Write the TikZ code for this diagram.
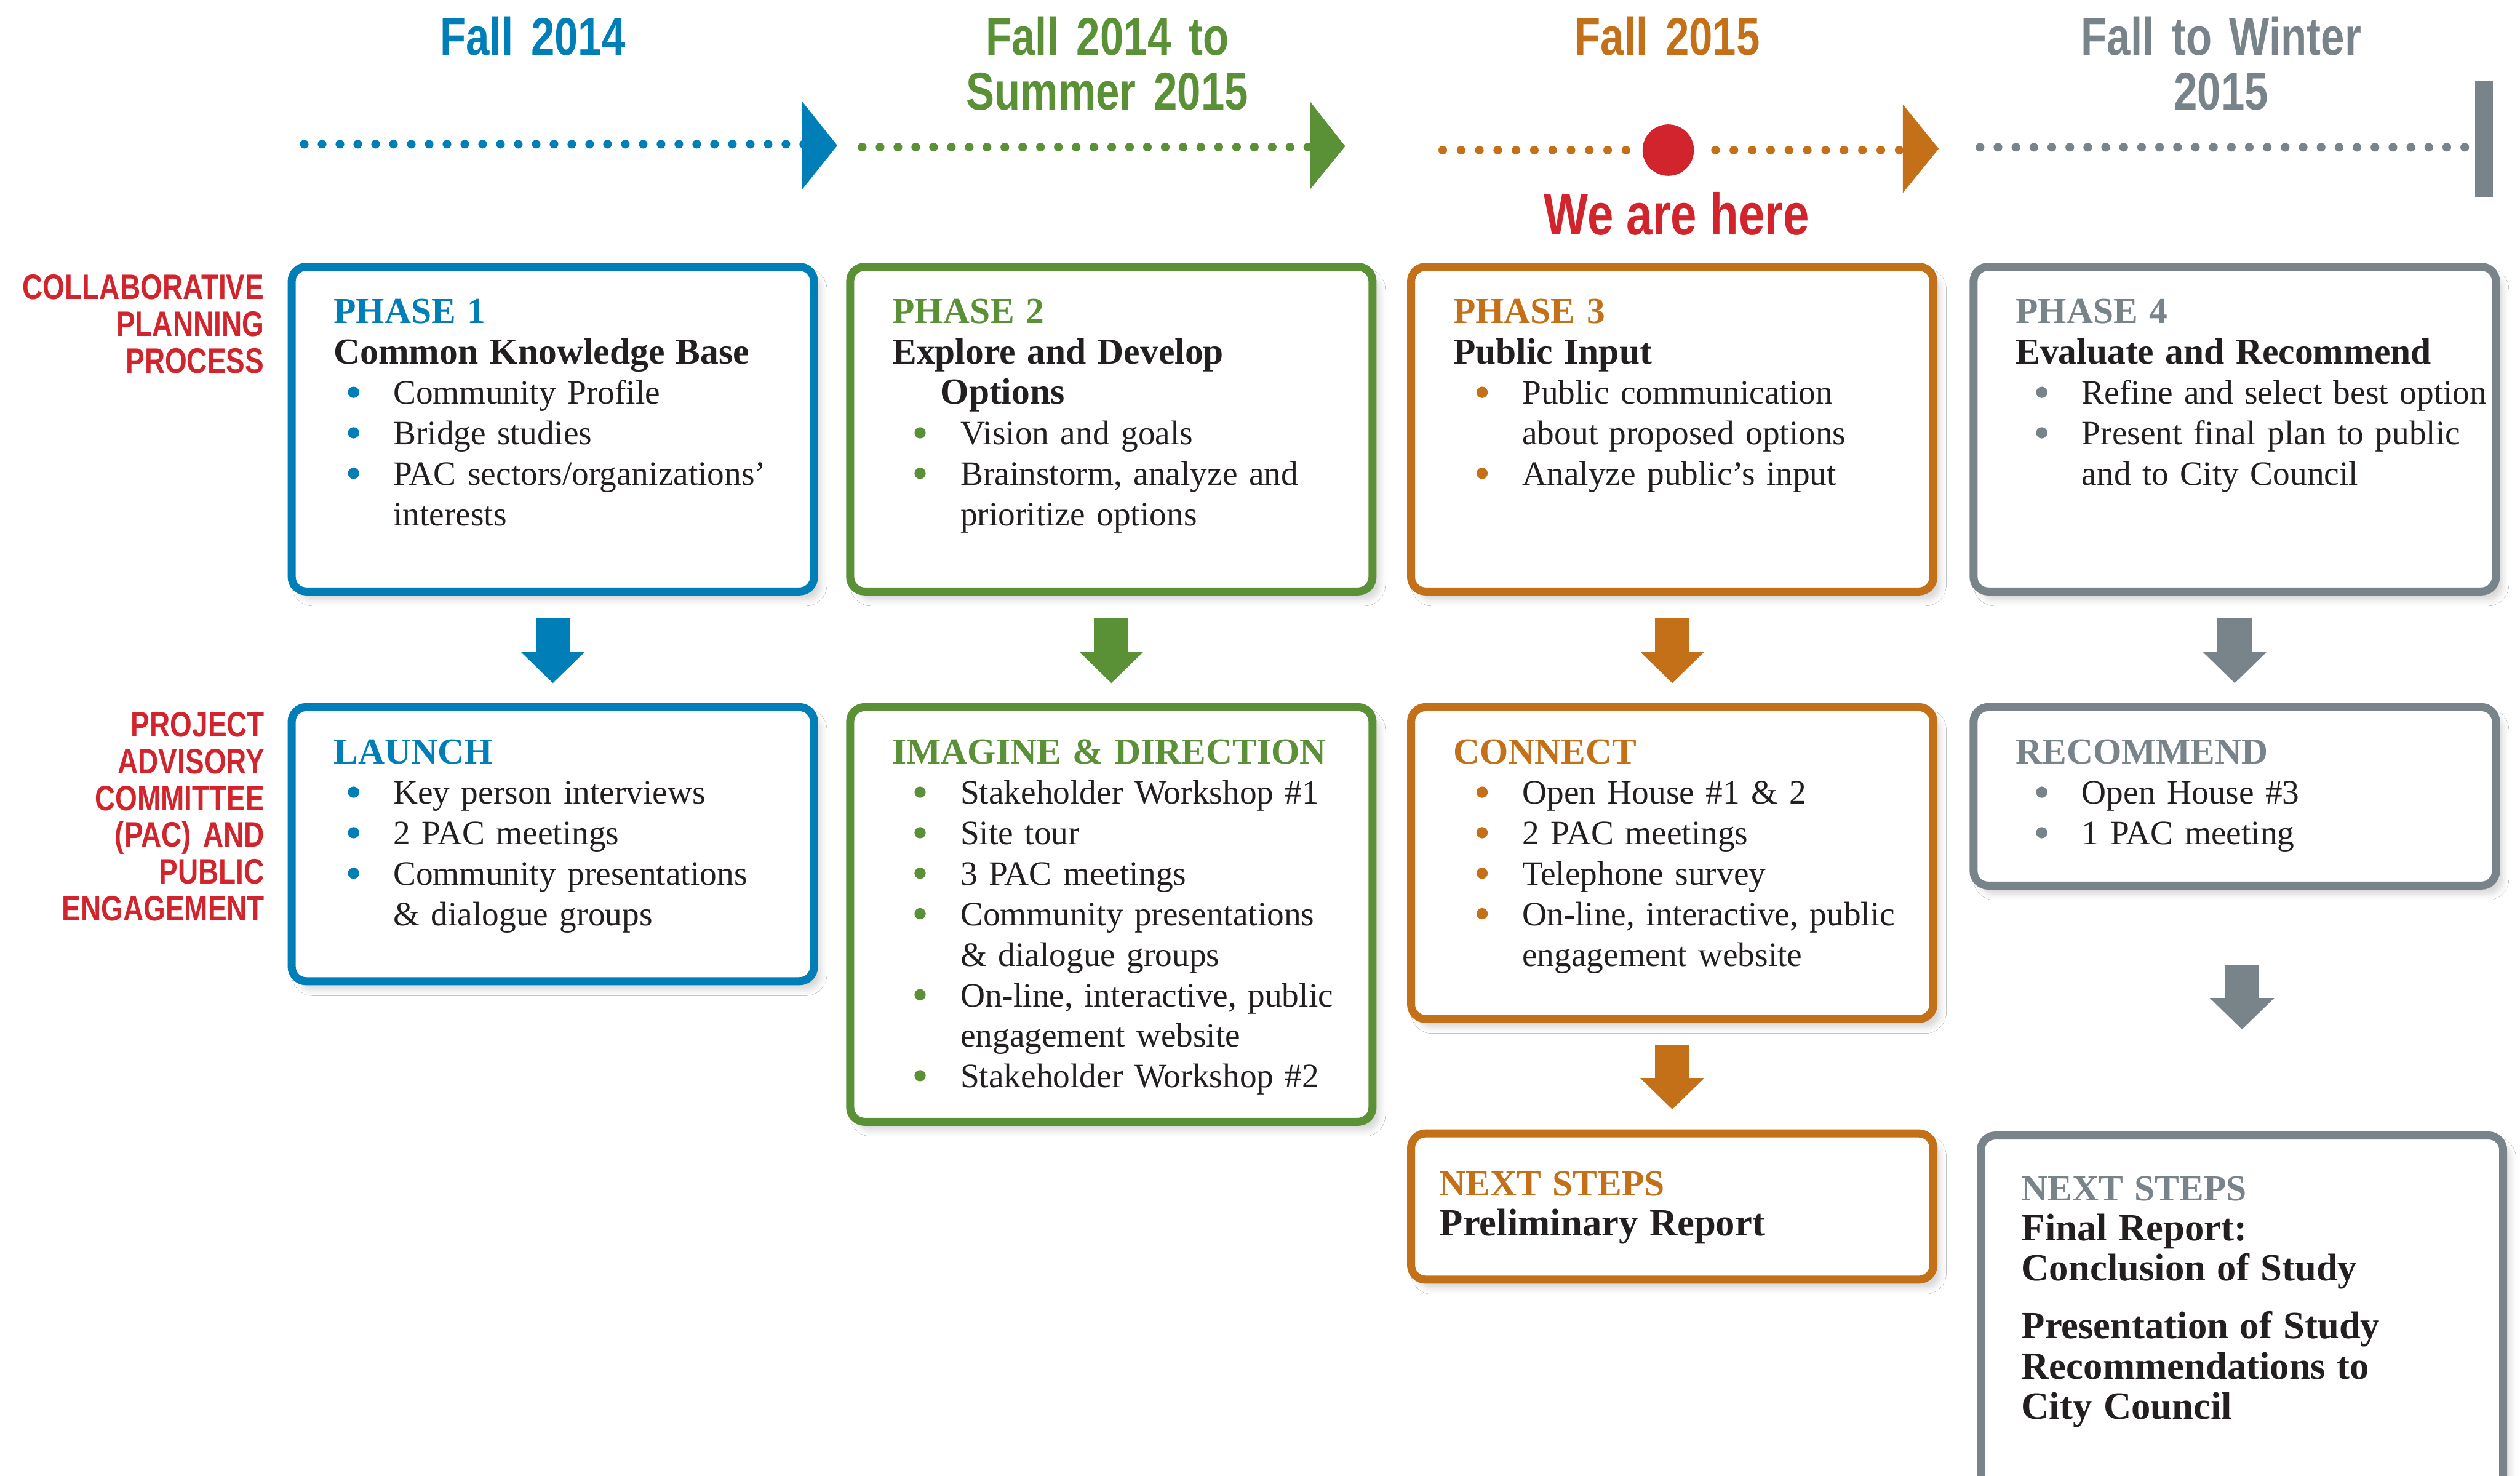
\documentclass[tikz,border=0pt]{standalone}
\usepackage{fontspec}
\usepackage{tikz}
\usetikzlibrary{arrows.meta, shadows.blur}
\usepackage{xcolor}

\setmainfont{Liberation Serif}
\newfontfamily\estreita[FakeStretch=0.8]{Liberation Sans}

\definecolor{azul}{HTML}{007EB7}
\definecolor{verde}{HTML}{5A9136}
\definecolor{laranja}{HTML}{C47019}
\definecolor{cinza}{HTML}{78838A}
\definecolor{vermelho}{HTML}{D2242C}
\definecolor{preto}{HTML}{231F20}

% Recuos dos marcadores
\newlength\posbola
\newlength\postexto
\newcommand{\titulo}[1]{{\fontsize{22.8}{25.2}\selectfont\bfseries\textcolor{cor}{#1}}}
\newcommand{\subtit}[1]{{\fontsize{22.8}{25.2}\selectfont\bfseries #1}}
\newcommand{\grande}[1]{{\fontsize{24}{25}\selectfont\bfseries #1}}
\newcommand{\bola}{\raisebox{3.9pt}{\tikz\fill[cor] (0,0) circle (3.5pt);}}
\newcommand{\marca}[1]{\par\hangindent=\postexto\hangafter=1\noindent
  \makebox[\postexto][l]{\hspace*{\posbola}\makebox[0pt]{\bola}}%
  {\let\\\newline #1}\par}

\begin{document}
\begin{tikzpicture}[x=1pt, y=-1pt,
    caixa/.style={draw=#1, fill=white, line width=5pt, rounded corners=9pt,
      anchor=north west, inner sep=0pt, minimum width=325pt,
      blur shadow={shadow xshift=4pt, shadow yshift=-5pt,
        shadow blur radius=4pt, shadow opacity=17}},
    lista/.style n args={3}{anchor=base west, inner sep=0pt, text width=310pt,
      align=left, text=preto, font=\fontsize{21.2}{25.2}\selectfont,
      execute at begin node={\colorlet{cor}{#1}\setlength\posbola{#2}\setlength\postexto{#3}}},
    seta/.style={color=#1, line width=21.5pt, shorten <=14pt, shorten >=12.5pt,
      -{Triangle[width=40pt, length=19.5pt, line width=0pt]}},
    periodo/.style={text=#1, anchor=base, inner sep=0pt, text width=240pt,
      align=center, font=\estreita\bfseries\fontsize{33}{34}\selectfont},
    lado/.style={text=vermelho, anchor=base east, inner sep=0pt, text width=170pt,
      align=right, font=\estreita\bfseries\fontsize{22}{22.9}\selectfont}]
    \fill[white] (0,0) rectangle (1568,918);
    \useasboundingbox (0,0) rectangle (1568,918);
    \clip (0,0) rectangle (1568,918);

    % Periodos
    \node[periodo=azul] (per1) at (331.5,34.2) {Fall 2014};
    \node[periodo=verde] (per2) at (689,34.2) {Fall 2014 to\\Summer 2015};
    \node[periodo=laranja] (per3) at (1037.5,34.2) {Fall 2015};
    \node[periodo=cinza] (per4) at (1382,34.2) {Fall to Winter\\2015};

    % Linha do tempo
    \foreach \i in {0,...,28} \fill[azul] (189.3+11.1*\i,89.7) circle (2.7pt);
    \fill[azul] (499,63) -- (521,90.5) -- (499,118) -- cycle;
    \foreach \i in {0,...,25} \fill[verde] (536.5+11.09*\i,91.5) circle (2.7pt);
    \fill[verde] (815,63) -- (837,91) -- (815,118) -- cycle;
    \foreach \i in {0,...,10} {
        \fill[laranja] (897.7+11.4*\i,93.4) circle (2.7pt);
        \fill[laranja] (1067.4+11.43*\i,93.4) circle (2.7pt);
    }
    \fill[laranja] (1184,65) -- (1206.3,92.5) -- (1184,120) -- cycle;
    \foreach \i in {0,...,27} \fill[cinza] (1232+11.17*\i,91.6) circle (2.7pt);
    \fill[cinza] (1540,50) rectangle (1551,123);

    % Estamos aqui
    \fill[vermelho] (1038,93.4) circle (16pt);
    \node[text=vermelho, anchor=base, inner sep=0pt,
      font=\estreita\bfseries\fontsize{36.5}{38}\selectfont] (aqui) at (1043.2,146) {We are here};

    % Rotulos das linhas
    \node[lado] (rot1) at (164.5,186.2) {COLLABORATIVE\\PLANNING\\PROCESS};
    \node[lado] (rot2) at (164.8,458.4) {PROJECT\\ADVISORY\\COMMITTEE\\(PAC) AND\\PUBLIC\\ENGAGEMENT};

    % Fases
    \node[caixa=azul, minimum height=202pt] (f1) at (179,163.5) {};
    \node[caixa=verde, minimum height=202pt] (f2) at (526.5,163.5) {};
    \node[caixa=laranja, minimum height=202pt] (f3) at (875.5,163.5) {};
    \node[caixa=cinza, minimum height=202pt] (f4) at (1225.5,163.5) {};

    % Participacao
    \node[caixa=azul, minimum height=170.5pt] (lan) at (179,437.5) {};
    \node[caixa=verde, minimum height=258pt] (ima) at (526.5,437.5) {};
    \node[caixa=laranja, minimum height=194pt] (con) at (875.5,437.5) {};
    \node[caixa=cinza, minimum height=111pt] (rec) at (1225.5,437.5) {};

    % Proximos passos
    \node[caixa=laranja, minimum height=91pt] (px3) at (875.5,702.7) {};
    \node[caixa=cinza, minimum height=260pt] (px4) at (1230,704) {};

    % Textos das fases
    \node[lista={azul}{12.3pt}{37pt}] (t1) at ([xshift=28.5pt,yshift=-37.6pt]f1.north west)
      {\titulo{PHASE 1}\\\subtit{Common Knowledge Base}
       \marca{Community Profile}\marca{Bridge studies}
       \marca{PAC sectors/organizations'\\interests}};
    \node[lista={verde}{17.3pt}{42.4pt}] (t2) at ([xshift=28.5pt,yshift=-37.6pt]f2.north west)
      {\titulo{PHASE 2}\\\subtit{Explore and Develop\\\hspace*{30pt}Options}
       \marca{Vision and goals}
       \marca{Brainstorm, analyze and\\prioritize options}};
    \node[lista={laranja}{18pt}{43pt}] (t3) at ([xshift=28.5pt,yshift=-37.6pt]f3.north west)
      {\titulo{PHASE 3}\\\subtit{Public Input}
       \marca{Public communication\\about proposed options}
       \marca{Analyze public's input}};
    \node[lista={cinza}{16.2pt}{41.2pt}] (t4) at ([xshift=28.5pt,yshift=-37.6pt]f4.north west)
      {\titulo{PHASE 4}\\\subtit{Evaluate and Recommend}
       \marca{Refine and select best option}
       \marca{Present final plan to public\\and to City Council}};

    % Textos da participacao
    \node[lista={azul}{12.3pt}{37pt}] (t5) at ([xshift=28.5pt,yshift=-37.6pt]lan.north west)
      {\titulo{LAUNCH}
       \marca{Key person interviews}\marca{2 PAC meetings}
       \marca{Community presentations\\\& dialogue groups}};
    \node[lista={verde}{17.3pt}{42.4pt}] (t6) at ([xshift=28.5pt,yshift=-37.6pt]ima.north west)
      {\titulo{IMAGINE \& DIRECTION}
       \marca{Stakeholder Workshop \#1}\marca{Site tour}\marca{3 PAC meetings}
       \marca{Community presentations\\\& dialogue groups}
       \marca{On-line, interactive, public\\engagement website}
       \marca{Stakeholder Workshop \#2}};
    \node[lista={laranja}{18pt}{43pt}] (t7) at ([xshift=28.5pt,yshift=-37.6pt]con.north west)
      {\titulo{CONNECT}
       \marca{Open House \#1 \& 2}\marca{2 PAC meetings}\marca{Telephone survey}
       \marca{On-line, interactive, public\\engagement website}};
    \node[lista={cinza}{16.2pt}{41.2pt}] (t8) at ([xshift=28.5pt,yshift=-37.6pt]rec.north west)
      {\titulo{RECOMMEND}
       \marca{Open House \#3}\marca{1 PAC meeting}};

    % Textos dos proximos passos
    \node[lista={laranja}{0pt}{0pt}, font=\fontsize{21.2}{25}\selectfont] (t9)
      at ([xshift=20pt,yshift=-41.3pt]px3.north west)
      {\titulo{NEXT STEPS}\\\grande{Preliminary Report}};
    \node[lista={cinza}{0pt}{0pt}, font=\fontsize{21.2}{25}\selectfont] (t10)
      at ([xshift=27.6pt,yshift=-42.9pt]px4.north west)
      {\titulo{NEXT STEPS}\\\grande{Final Report:}\\\grande{Conclusion of Study}\par\vspace{11pt}
       \grande{Presentation of Study\\Recommendations to\\City Council}};

    % Setas
    \draw[seta=azul] (f1.south) -- (lan.north);
    \draw[seta=verde] (f2.south) -- (ima.north);
    \draw[seta=laranja] (f3.south) -- (con.north);
    \draw[seta=cinza] (f4.south) -- (rec.north);
    \draw[seta=laranja] (con.south) -- (px3.north);
    \draw[seta=cinza, shorten <=47pt, shorten >=63.5pt] (px4.north |- rec.south) -- (px4.north);
\end{tikzpicture}
\end{document}
